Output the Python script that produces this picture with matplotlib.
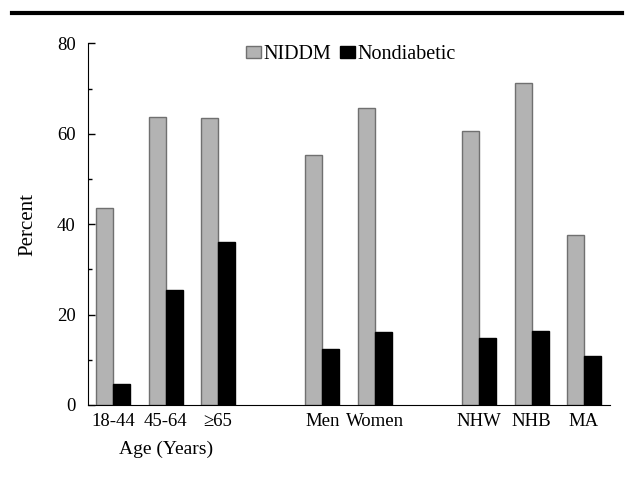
import matplotlib
matplotlib.use('Agg')
import matplotlib.pyplot as plt
from matplotlib.lines import Line2D
from matplotlib.ticker import MultipleLocator
import numpy as np

# categories and values (percent)
labels = ['18-44', '45-64', '\u226565', 'Men', 'Women', 'NHW', 'NHB', 'MA']
positions = [0, 1, 2, 4, 5, 7, 8, 9]
niddm = [43.6, 63.7, 63.4, 55.2, 65.7, 60.5, 71.3, 37.5]
nondiabetic = [4.7, 25.4, 36.1, 12.4, 16.2, 14.8, 16.4, 10.8]

plt.rcParams['font.family'] = ['Liberation Serif', 'DejaVu Serif']

fig = plt.figure(figsize=(6.25, 4.96), dpi=100)
ax = fig.add_axes([0.1408, 0.1835, 0.835, 0.7292])

x = np.array(positions)
w = 0.325
ax.bar(x - w / 2, niddm, w, color='#b3b3b3', edgecolor='#707070', linewidth=1, label='NIDDM')
ax.bar(x + w / 2, nondiabetic, w, color='black', edgecolor='black', linewidth=1, label='Nondiabetic')

ax.set_xlim(-0.484, 9.497)
ax.set_ylim(0, 80)
ax.set_xticks(x)
ax.set_xticklabels(labels, fontsize=13.5)
ax.tick_params(axis='x', length=0, pad=6)
ax.yaxis.set_major_locator(MultipleLocator(20))
ax.yaxis.set_minor_locator(MultipleLocator(10))
ax.tick_params(axis='y', which='major', direction='in', length=5, width=1, labelsize=13.5, pad=9)
ax.tick_params(axis='y', which='minor', direction='in', length=3, width=1)
ax.spines['top'].set_visible(False)
ax.spines['right'].set_visible(False)
ax.set_ylabel('Percent', fontsize=15, labelpad=14)

ax.text(1, -0.1, 'Age (Years)', transform=ax.get_xaxis_transform(),
        ha='center', va='top', fontsize=14)

ax.legend(loc='upper left', bbox_to_anchor=(0.393, 0.909), bbox_transform=fig.transFigure,
          ncol=2, frameon=False, fontsize=14.5, handlelength=0.75, handleheight=0.55,
          handletextpad=0.15, columnspacing=0.4, borderaxespad=0, borderpad=0)

# thick rule across the top
fig.add_artist(Line2D([0.019, 0.995], [0.973, 0.973], color='black', linewidth=3,
                      transform=fig.transFigure))

fig.savefig('out.png', dpi=100)
